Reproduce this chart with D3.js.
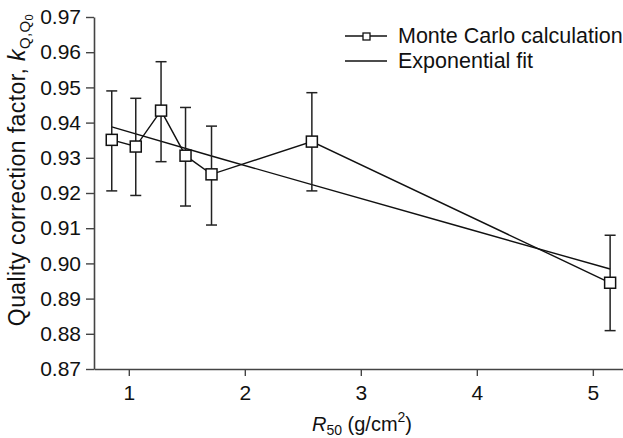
<!DOCTYPE html>
<html lang="en">
<head>
<meta charset="UTF-8">
<title>kQ,Q0 vs R50</title>
<script src="https://d3js.org/d3.v7.min.js"></script>
<style>
    body { margin: 0; background: #fff; }
    svg text { font-family: "Liberation Sans", Arial, sans-serif; fill: #111; }
    .tick text { font-size: 21px; }
</style>
</head>
<body>
<svg width="623" height="438"></svg>
<script>
    // Monte Carlo points
    const r50 = [0.853, 1.06, 1.278, 1.489, 1.713, 2.578, 5.149];
    const kq = [0.9351, 0.9332, 0.9434, 0.9306, 0.9253, 0.9346, 0.8945];
    const errUp = [0.9490, 0.9469, 0.9573, 0.9443, 0.9390, 0.9485, 0.9080];
    const errDown = [0.9206, 0.9193, 0.9289, 0.9163, 0.9109, 0.9206, 0.8809];

    // exponential fit line
    const fitX = [0.853, 1.713, 2.578, 3.86, 5.149];
    const fitY = [0.9388, 0.9305, 0.9224, 0.9104, 0.8984];

    const yTicks = [0.87, 0.88, 0.89, 0.90, 0.91, 0.92, 0.93, 0.94, 0.95, 0.96, 0.97];
    const xTicks = [1, 2, 3, 4, 5];
    const legendLabels = ["Monte Carlo calculation", "Exponential fit"];

    const svg = d3.select("svg");
    const mLeft = 94, mTop = 17, mBottom = 369, mRight = 623;

    const x = d3.scaleLinear().domain([0.7, 5.26]).range([mLeft, mRight]);
    const y = d3.scaleLinear().domain([0.87, 0.97]).range([mBottom, mTop]);

    // axes
    const axisColor = "#444";
    const yAxis = svg.append("g")
        .attr("transform", `translate(${mLeft},0)`)
        .call(d3.axisLeft(y).tickValues(yTicks).tickFormat(d3.format(".2f"))
            .tickSize(8).tickSizeOuter(0).tickPadding(5));
    const xAxis = svg.append("g")
        .attr("transform", `translate(0,${mBottom})`)
        .call(d3.axisBottom(x).tickValues(xTicks).tickFormat(d3.format("d"))
            .tickSize(7).tickSizeOuter(0).tickPadding(9));
    [xAxis, yAxis].forEach(function (g) {
        g.select(".domain").attr("stroke", axisColor).attr("stroke-width", 1.6);
        g.selectAll(".tick line").attr("stroke", axisColor).attr("stroke-width", 1.4);
        g.attr("font-family", null).attr("font-size", null);
    });

    // fit line
    const fitData = fitX.map(function (d, i) { return [d, fitY[i]]; });
    svg.append("path")
        .datum(fitData)
        .attr("d", d3.line().x(d => x(d[0])).y(d => y(d[1])))
        .attr("fill", "none")
        .attr("stroke", "#111")
        .attr("stroke-width", 1.4);

    // error bars
    const pts = r50.map(function (d, i) {
        return { x: d, y: kq[i], hi: errUp[i], lo: errDown[i] };
    });
    const eb = svg.append("g").attr("stroke", "#222").attr("stroke-width", 1.5);
    eb.selectAll(".bar").data(pts).enter().append("line")
        .attr("x1", d => x(d.x)).attr("x2", d => x(d.x))
        .attr("y1", d => y(d.hi)).attr("y2", d => y(d.lo));
    eb.selectAll(".capHi").data(pts).enter().append("line")
        .attr("x1", d => x(d.x) - 5.5).attr("x2", d => x(d.x) + 5.5)
        .attr("y1", d => y(d.hi)).attr("y2", d => y(d.hi));
    eb.selectAll(".capLo").data(pts).enter().append("line")
        .attr("x1", d => x(d.x) - 5.5).attr("x2", d => x(d.x) + 5.5)
        .attr("y1", d => y(d.lo)).attr("y2", d => y(d.lo));

    // Monte Carlo line + markers
    svg.append("path")
        .datum(pts)
        .attr("d", d3.line().x(d => x(d.x)).y(d => y(d.y)))
        .attr("fill", "none")
        .attr("stroke", "#111")
        .attr("stroke-width", 1.4);
    const sq = 11;
    svg.selectAll(".mark").data(pts).enter().append("rect")
        .attr("x", d => x(d.x) - sq / 2)
        .attr("y", d => y(d.y) - sq / 2)
        .attr("width", sq).attr("height", sq)
        .attr("fill", "#fff")
        .attr("stroke", "#111")
        .attr("stroke-width", 1.5);

    // legend
    const lg = svg.append("g");
    lg.selectAll("line").data(legendLabels).enter().append("line")
        .attr("x1", 345).attr("x2", 387)
        .attr("y1", (d, i) => 36 + i * 25).attr("y2", (d, i) => 36 + i * 25)
        .attr("stroke", "#111").attr("stroke-width", 1.4);
    lg.append("rect")
        .attr("x", 363).attr("y", 33).attr("width", 7).attr("height", 7)
        .attr("fill", "#fff").attr("stroke", "#111").attr("stroke-width", 1.3);
    lg.selectAll("text").data(legendLabels).enter().append("text")
        .attr("x", 398)
        .attr("y", (d, i) => 43 + i * 25)
        .attr("font-size", 21.5)
        .text(d => d);

    // x axis title
    const xt = svg.append("text")
        .attr("x", 362).attr("y", 431)
        .attr("text-anchor", "middle")
        .attr("font-size", 20);
    xt.append("tspan").attr("font-style", "italic").text("R");
    xt.append("tspan").attr("font-size", 14).attr("dy", 4).text("50");
    xt.append("tspan").attr("dy", -4).text(" (g/cm");
    xt.append("tspan").attr("font-size", 14).attr("dy", -9).text("2");
    xt.append("tspan").attr("dy", 9).text(")");

    // y axis title
    const yt = svg.append("text")
        .attr("transform", "translate(25,170) rotate(-90)")
        .attr("text-anchor", "middle")
        .attr("font-size", 23)
        .attr("letter-spacing", 0.4);
    yt.append("tspan").text("Quality correction factor, ");
    yt.append("tspan").attr("font-style", "italic").text("k");
    yt.append("tspan").attr("font-size", 15).attr("dy", 5).text("Q,Q");
    yt.append("tspan").attr("font-size", 11).attr("dy", 3).text("0");
</script>
</body>
</html>
